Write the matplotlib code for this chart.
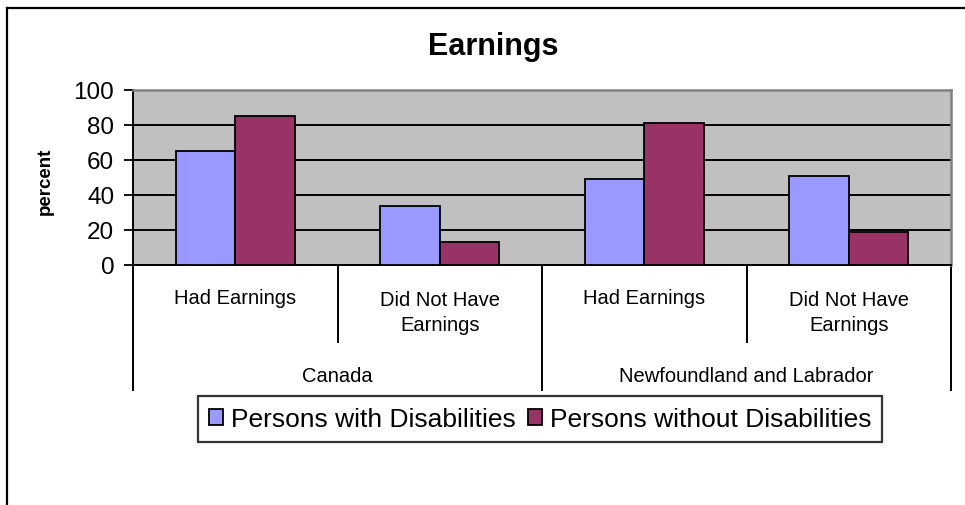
import numpy as np
import matplotlib
matplotlib.use("Agg")
import matplotlib.pyplot as plt
from matplotlib.lines import Line2D
from matplotlib.transforms import blended_transform_factory

plt.rcParams['font.family'] = ['Liberation Sans', 'DejaVu Sans']

# data
categories = ["Had Earnings", "Did Not Have\nEarnings", "Had Earnings", "Did Not Have\nEarnings"]
groups = ["Canada", "Newfoundland and Labrador"]
with_dis = [65, 34, 49, 51]
without_dis = [85, 13, 81, 19]
series_names = ["Persons with Disabilities", "Persons without Disabilities"]
colors = ["#9999FF", "#993366"]

W, H = 965, 506
fig = plt.figure(figsize=(W / 100, H / 100), dpi=100)
ax = fig.add_axes([133 / W, 1 - 266 / H, (951 - 133) / W, (266 - 91) / H])

x = np.arange(len(categories))
bw = 0.29
ax.set_facecolor("#C0C0C0")
ax.bar(x - bw / 2, with_dis, bw, color=colors[0], edgecolor="black", linewidth=1.3, zorder=3)
ax.bar(x + bw / 2, without_dis, bw, color=colors[1], edgecolor="black", linewidth=1.3, zorder=3)

ax.set_xlim(-0.5, len(categories) - 0.5)
ax.set_ylim(0, 100)
ax.set_yticks([0, 20, 40, 60, 80, 100])
ax.yaxis.grid(True, color="black", linewidth=1.4, zorder=1)
ax.set_axisbelow(True)
ax.tick_params(axis="y", direction="out", length=6.5, width=1.3, labelsize=17.5, pad=7)
ax.set_xticks([])
for s in ["top", "right"]:
    ax.spines[s].set_color("#808080")
    ax.spines[s].set_linewidth(1.8)
for s in ["left", "bottom"]:
    ax.spines[s].set_color("black")
    ax.spines[s].set_linewidth(1.4)

# category axis: labels and separators below the plot
tr = blended_transform_factory(ax.transData, ax.transAxes)
for i, lab in enumerate(categories):
    yy = -0.183 if "\n" not in lab else -0.269
    ax.text(i, yy, lab, transform=tr, ha="center", va="center", fontsize=14.5,
            linespacing=1.45)
for i, g in enumerate(groups):
    ax.text(2 * i + 0.5, -0.629, g, transform=tr, ha="center", va="center", fontsize=14.5)
for b in [0.5, 2.5]:
    ax.add_line(Line2D([b, b], [0, -0.44], transform=tr, color="black", lw=1.4, clip_on=False))
for b in [-0.5, 1.5, 3.5]:
    ax.add_line(Line2D([b, b], [0, -0.714], transform=tr, color="black", lw=1.4, clip_on=False))

fig.text(493 / W, 1 - 47 / H, "Earnings", ha="center", va="center", fontsize=22, fontweight="bold")
fig.text(45 / W, 1 - 181 / H, "percent", ha="center", va="center", rotation=90,
         fontsize=13.5, fontweight="bold")

handles = [plt.Rectangle((0, 0), 1, 1, facecolor=c, edgecolor="black", linewidth=1.3) for c in colors]
leg = fig.legend(handles, series_names, loc="center", bbox_to_anchor=(540 / W, 1 - 420 / H),
                 ncol=2, fontsize=19, frameon=True, fancybox=False, handlelength=0.55,
                 handleheight=0.55, handletextpad=0.3, columnspacing=0.45, borderpad=0.4,
                 borderaxespad=0)
leg.get_frame().set_edgecolor("black")
leg.get_frame().set_linewidth(1.6)

# outer chart border (right and bottom are cut off)
fig.add_artist(Line2D([7 / W, 7 / W], [0, 1 - 9 / H], color="black", lw=1.6))
fig.add_artist(Line2D([7 / W, 1], [1 - 9 / H, 1 - 9 / H], color="black", lw=1.6))

fig.savefig("out.png", dpi=100)
